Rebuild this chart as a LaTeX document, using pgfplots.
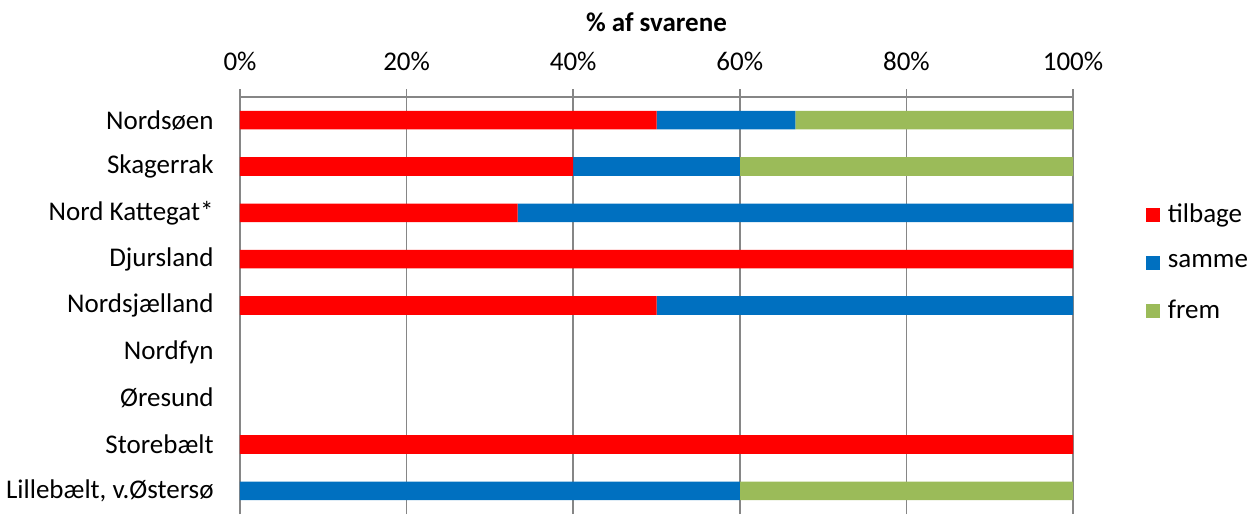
\documentclass[border=0pt]{standalone}
\usepackage{pgfplots}
\pgfplotsset{compat=1.18}
\usepackage{fontspec}
\setmainfont{Carlito}
\definecolor{cred}{HTML}{FF0000}
\definecolor{cblue}{HTML}{0070C0}
\definecolor{cgreen}{HTML}{9BBB59}
\definecolor{cgrid}{HTML}{868686}
\begin{document}
\fontsize{13.5}{16.2}\selectfont
\begin{tikzpicture}
\begin{axis}[
  at={(0pt,0pt)}, anchor=south west,
  scale only axis,
  width=416.5pt, height=208.5pt,
  xbar stacked,
  bar width=9.3pt,
  xmin=0, xmax=100,
  ymin=-0.5, ymax=8.5,
  axis x line*=top,
  axis y line*=left,
  axis line style={cgrid, line width=0.8pt},
  xtick={0,20,...,100},
  xticklabel={\pgfmathprintnumber{\tick}\%},
  /pgf/number format/assume math mode=true,
  xmajorgrids,
  grid style={cgrid, line width=0.8pt},
  tick align=outside,
  major tick length=4pt,
  tick style={cgrid, line width=0.8pt},
  ytick={0,...,8},
  yticklabels={{Lillebælt, v.Østersø},Storebælt,Øresund,Nordfyn,Nordsjælland,Djursland,{Nord Kattegat*},Skagerrak,Nordsøen},
  ytick style={draw=none},
  minor ytick={-0.5,0.5,...,8.5},
  minor tick length=4pt,
  minor tick style={cgrid, line width=0.8pt},
  yticklabel style={inner sep=0pt, xshift=-9pt},
  xticklabel style={inner sep=0pt, yshift=9pt},
  title={\bfseries \% af svarene},
  title style={at={(0.5,1)}, anchor=center, yshift=31.5pt, inner sep=0pt},
  legend style={draw=none, fill=none, at={(axis description cs:1.087,0.602)}, anchor=west,
    row sep=14pt, column sep=4pt, inner sep=0pt, font=\fontsize{13.5}{16.2}\selectfont,
    nodes={inner sep=0pt}},
  legend cell align=left,
  legend image code/.code={\fill (0pt,-3.5pt) rectangle (7pt,3.5pt);},
]
\addplot[fill=cred, draw=none] coordinates {(0,0) (100,1) (0,2) (0,3) (50,4) (100,5) (33.33,6) (40,7) (50,8)};
\addplot[fill=cblue, draw=none] coordinates {(60,0) (0,1) (0,2) (0,3) (50,4) (0,5) (66.67,6) (20,7) (16.67,8)};
\addplot[fill=cgreen, draw=none] coordinates {(40,0) (0,1) (0,2) (0,3) (0,4) (0,5) (0,6) (40,7) (33.33,8)};
\legend{tilbage,samme,frem}
\end{axis}
\pgfresetboundingbox
\path[use as bounding box] (-120pt,-1pt) rectangle (503.5pt,257pt);
\end{tikzpicture}
\end{document}
